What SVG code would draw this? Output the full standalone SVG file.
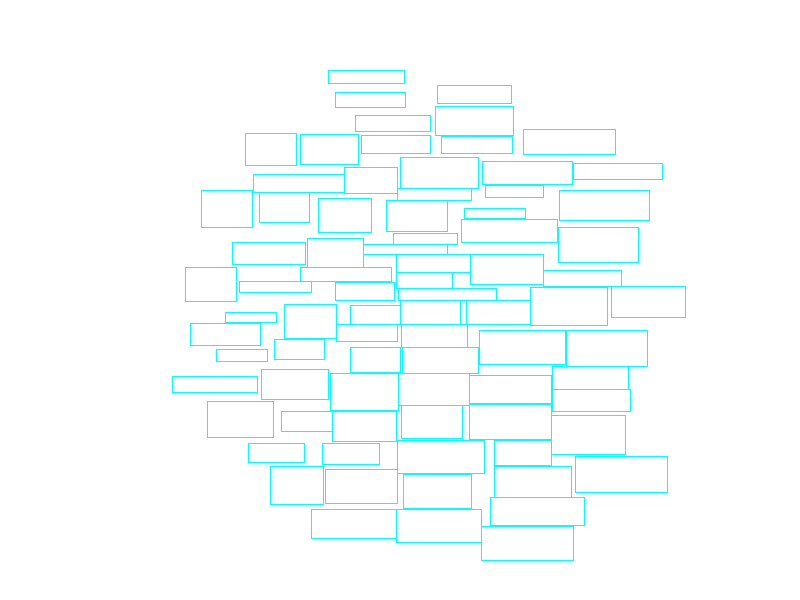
<svg xmlns="http://www.w3.org/2000/svg" width="800" height="600" viewBox="0 0 800 600">
<style>
rect.b{fill:none;stroke:#00ffff;stroke-width:1}
</style>
<rect x="0" y="0" width="800" height="600" fill="#ffffff"/>
<g id="boxes" transform="translate(0.5,0.5)">
<rect class="b" id="r1" x="328" y="70" width="76" height="13"/>
<rect class="b" id="r2" x="437" y="85" width="74" height="18"/>
<rect class="b" id="r3" x="335" y="92" width="70" height="15"/>
<rect class="b" id="r4" x="435" y="106" width="78" height="29"/>
<rect class="b" id="r5" x="355" y="115" width="75" height="16"/>
<rect class="b" id="r6" x="523" y="129" width="92" height="25"/>
<rect class="b" id="r7" x="245" y="133" width="51" height="32"/>
<rect class="b" id="r8" x="300" y="134" width="58" height="30"/>
<rect class="b" id="r9" x="361" y="135" width="69" height="18"/>
<rect class="b" id="r10" x="441" y="136" width="71" height="17"/>
<rect class="b" id="r11" x="400" y="157" width="78" height="31"/>
<rect class="b" id="r12" x="482" y="161" width="90" height="23"/>
<rect class="b" id="r13" x="573" y="163" width="89" height="16"/>
<rect class="b" id="r14" x="344" y="167" width="53" height="26"/>
<rect class="b" id="r15" x="253" y="174" width="91" height="18"/>
<rect class="b" id="r16" x="485" y="185" width="58" height="12"/>
<rect class="b" id="r17" x="397" y="188" width="74" height="12"/>
<rect class="b" id="r18" x="201" y="190" width="51" height="37"/>
<rect class="b" id="r19" x="559" y="190" width="90" height="30"/>
<rect class="b" id="r20" x="259" y="192" width="50" height="30"/>
<rect class="b" id="r21" x="318" y="198" width="53" height="34"/>
<rect class="b" id="r22" x="386" y="200" width="61" height="31"/>
<rect class="b" id="r23" x="464" y="208" width="61" height="10"/>
<rect class="b" id="r24" x="461" y="219" width="96" height="23"/>
<rect class="b" id="r25" x="558" y="227" width="80" height="35"/>
<rect class="b" id="r26" x="393" y="233" width="64" height="11"/>
<rect class="b" id="r27" x="307" y="238" width="56" height="29"/>
<rect class="b" id="r28" x="232" y="242" width="73" height="22"/>
<rect class="b" id="r29" x="363" y="244" width="84" height="10"/>
<rect class="b" id="r30" x="396" y="254" width="74" height="18"/>
<rect class="b" id="r31" x="470" y="254" width="73" height="30"/>
<rect class="b" id="r32" x="185" y="267" width="51" height="34"/>
<rect class="b" id="r33" x="300" y="267" width="91" height="14"/>
<rect class="b" id="r34" x="543" y="270" width="78" height="16"/>
<rect class="b" id="r35" x="396" y="272" width="56" height="16"/>
<rect class="b" id="r36" x="239" y="281" width="72" height="11"/>
<rect class="b" id="r37" x="335" y="282" width="59" height="18"/>
<rect class="b" id="r38" x="611" y="286" width="74" height="31"/>
<rect class="b" id="r39" x="530" y="287" width="77" height="38"/>
<rect class="b" id="r40" x="398" y="288" width="98" height="12"/>
<rect class="b" id="r41" x="284" y="304" width="52" height="34"/>
<rect class="b" id="r42" x="350" y="305" width="50" height="19"/>
<rect class="b" id="r43" x="400" y="300" width="60" height="24"/>
<rect class="b" id="r44" x="466" y="300" width="64" height="24"/>
<rect class="b" id="r45" x="225" y="312" width="51" height="10"/>
<rect class="b" id="r46" x="190" y="323" width="70" height="22"/>
<rect class="b" id="r47" x="336" y="324" width="61" height="17"/>
<rect class="b" id="r48" x="401" y="324" width="66" height="23"/>
<rect class="b" id="r49" x="479" y="330" width="86" height="34"/>
<rect class="b" id="r50" x="566" y="330" width="81" height="36"/>
<rect class="b" id="r51" x="274" y="339" width="50" height="20"/>
<rect class="b" id="r52" x="216" y="349" width="51" height="12"/>
<rect class="b" id="r53" x="350" y="347" width="50" height="25"/>
<rect class="b" id="r54" x="402" y="347" width="76" height="26"/>
<rect class="b" id="r55" x="552" y="366" width="76" height="23"/>
<rect class="b" id="r56" x="261" y="369" width="67" height="30"/>
<rect class="b" id="r57" x="330" y="373" width="68" height="37"/>
<rect class="b" id="r58" x="398" y="373" width="71" height="32"/>
<rect class="b" id="r59" x="469" y="375" width="82" height="28"/>
<rect class="b" id="r60" x="172" y="376" width="85" height="16"/>
<rect class="b" id="r61" x="552" y="389" width="78" height="22"/>
<rect class="b" id="r62" x="207" y="401" width="66" height="36"/>
<rect class="b" id="r63" x="469" y="404" width="82" height="35"/>
<rect class="b" id="r64" x="401" y="405" width="61" height="33"/>
<rect class="b" id="r65" x="281" y="411" width="51" height="20"/>
<rect class="b" id="r66" x="332" y="411" width="64" height="30"/>
<rect class="b" id="r67" x="551" y="415" width="74" height="39"/>
<rect class="b" id="r68" x="397" y="440" width="87" height="33"/>
<rect class="b" id="r69" x="494" y="440" width="57" height="25"/>
<rect class="b" id="r70" x="248" y="443" width="56" height="19"/>
<rect class="b" id="r71" x="322" y="443" width="57" height="21"/>
<rect class="b" id="r72" x="575" y="456" width="92" height="36"/>
<rect class="b" id="r73" x="270" y="466" width="53" height="38"/>
<rect class="b" id="r74" x="325" y="469" width="72" height="34"/>
<rect class="b" id="r75" x="494" y="466" width="77" height="31"/>
<rect class="b" id="r76" x="403" y="474" width="68" height="34"/>
<rect class="b" id="r77" x="490" y="497" width="94" height="28"/>
<rect class="b" id="r78" x="311" y="509" width="85" height="29"/>
<rect class="b" id="r79" x="396" y="509" width="85" height="33"/>
<rect class="b" id="r80" x="481" y="526" width="92" height="34"/>
</g>
<g id="connectors"/>
</svg>
